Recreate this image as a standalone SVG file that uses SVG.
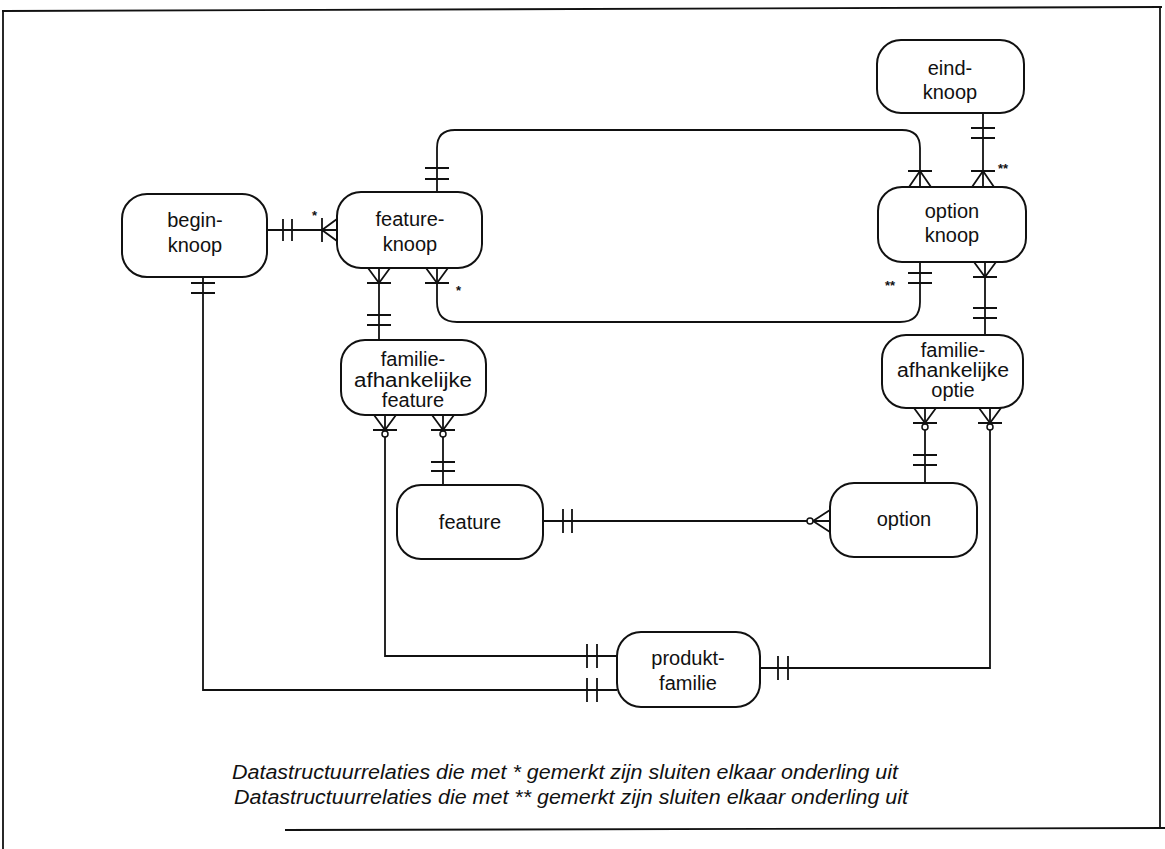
<svg xmlns="http://www.w3.org/2000/svg" width="1165" height="849" viewBox="0 0 1165 849">
<style>
.box{fill:#fff;stroke:#111;stroke-width:2}
.ln{fill:none;stroke:#111;stroke-width:1.8}
.lbl{font-family:"Liberation Sans",Arial,sans-serif;font-size:20px;fill:#111;text-anchor:middle}
.star{font-family:"Liberation Sans",Arial,sans-serif;font-size:13px;font-weight:bold;fill:#111}
.cap{font-family:"Liberation Sans",Arial,sans-serif;font-size:20px;font-style:italic;fill:#111}
.ring{fill:#fff;stroke:#111;stroke-width:1.5}
</style>
<rect width="1165" height="849" fill="#fff"/>
<g id="frame" class="ln">
<path d="M2 11 L1162 7"/>
<path d="M3 11 L3 849"/>
<path d="M1160 7 L1160 829"/>
<path d="M285 830 L1165 828"/>
</g>
<g id="connectors" class="ln">
<path d="M267 230 H337"/>
<path d="M283 219 V241 M292 219 V241"/>
<path d="M322 218 V242 M322 230 L337 219 M322 230 L337 241"/>
<path d="M203 277 V690 H617"/>
<path d="M191 283 H215 M191 293 H215"/>
<path d="M587 678 V702 M597 678 V702"/>
<path d="M437 192 V148 Q437 130 455 130 H902 Q920 130 920 148 V187"/>
<path d="M425 168 H449 M425 179 H449"/>
<path d="M908 171 H932 M920 171 L909 187 M920 171 L931 187"/>
<path d="M437 268 V302 Q437 322 457 322 H900 Q920 322 920 302 V262"/>
<path d="M425 283 H449 M437 283 L426 268 M437 283 L448 268"/>
<path d="M908 273 H932 M908 283 H932"/>
<path d="M983 113 V187"/>
<path d="M971 128 H995 M971 138 H995"/>
<path d="M971 171 H995 M983 171 L972 187 M983 171 L994 187"/>
<path d="M379 268 V340"/>
<path d="M367 283 H391 M379 283 L368 268 M379 283 L390 268"/>
<path d="M367 315 H391 M367 325 H391"/>
<path d="M985 262 V335"/>
<path d="M973 277 H997 M985 277 L974 262 M985 277 L996 262"/>
<path d="M973 308 H997 M973 318 H997"/>
<path d="M385 415 V656 H617"/>
<path d="M373 430 H397 M385 430 L374 415 M385 430 L396 415"/>
<path d="M587 644 V668 M597 644 V668"/>
<path d="M443 415 V485"/>
<path d="M431 430 H455 M443 430 L432 415 M443 430 L454 415"/>
<path d="M431 462 H455 M431 471 H455"/>
<path d="M925 408 V483"/>
<path d="M913 423 H937 M925 423 L914 408 M925 423 L936 408"/>
<path d="M913 455 H937 M913 465 H937"/>
<path d="M990 408 V668 H760"/>
<path d="M978 423 H1002 M990 423 L979 408 M990 423 L1001 408"/>
<path d="M778 656 V680 M788 656 V680"/>
<path d="M543 521 H830"/>
<path d="M563 509 V533 M572 509 V533"/>
<path d="M813 521 L830 510 M813 521 L830 532"/>
</g>
<g id="rings">
<circle class="ring" cx="385" cy="434" r="3"/>
<circle class="ring" cx="443" cy="434" r="3"/>
<circle class="ring" cx="925" cy="427" r="3"/>
<circle class="ring" cx="990" cy="427" r="3"/>
<circle class="ring" cx="810" cy="521" r="3"/>
</g>
<g id="marks">
<text class="star" x="312" y="220">*</text>
<text class="star" x="456" y="295">*</text>
<text class="star" x="998" y="173">**</text>
<text class="star" x="885" y="290">**</text>
</g>
<g id="eind-knoop">
<rect class="box" x="877" y="40" width="147" height="73" rx="24"/>
<text class="lbl" x="950" y="75">eind-</text>
<text class="lbl" x="950" y="99">knoop</text>
</g>
<g id="begin-knoop">
<rect class="box" x="122" y="194" width="145" height="83" rx="25"/>
<text class="lbl" x="195" y="227">begin-</text>
<text class="lbl" x="195" y="252">knoop</text>
</g>
<g id="feature-knoop">
<rect class="box" x="337" y="192" width="145" height="76" rx="24"/>
<text class="lbl" x="410" y="226">feature-</text>
<text class="lbl" x="410" y="251">knoop</text>
</g>
<g id="option-knoop">
<rect class="box" x="878" y="187" width="148" height="75" rx="24"/>
<text class="lbl" x="952" y="218">option</text>
<text class="lbl" x="952" y="242">knoop</text>
</g>
<g id="familie-afhankelijke-feature">
<rect class="box" x="341" y="340" width="145" height="75" rx="24"/>
<text class="lbl" x="413" y="366">familie-</text>
<text class="lbl" x="413" y="387" textLength="118" lengthAdjust="spacingAndGlyphs">afhankelijke</text>
<text class="lbl" x="413" y="407">feature</text>
</g>
<g id="familie-afhankelijke-optie">
<rect class="box" x="882" y="335" width="141" height="73" rx="24"/>
<text class="lbl" x="953" y="357">familie-</text>
<text class="lbl" x="953" y="377" textLength="112" lengthAdjust="spacingAndGlyphs">afhankelijke</text>
<text class="lbl" x="953" y="397">optie</text>
</g>
<g id="feature">
<rect class="box" x="397" y="485" width="146" height="74" rx="24"/>
<text class="lbl" x="470" y="529">feature</text>
</g>
<g id="option">
<rect class="box" x="830" y="483" width="147" height="74" rx="24"/>
<text class="lbl" x="904" y="526">option</text>
</g>
<g id="produkt-familie">
<rect class="box" x="617" y="632" width="143" height="75" rx="24"/>
<text class="lbl" x="688" y="665">produkt-</text>
<text class="lbl" x="688" y="690">familie</text>
</g>
<g id="caption">
<text class="cap" x="232" y="779" textLength="666" lengthAdjust="spacingAndGlyphs">Datastructuurrelaties die met * gemerkt zijn sluiten elkaar onderling uit</text>
<text class="cap" x="234" y="804" textLength="674" lengthAdjust="spacingAndGlyphs">Datastructuurrelaties die met ** gemerkt zijn sluiten elkaar onderling uit</text>
</g>
</svg>
